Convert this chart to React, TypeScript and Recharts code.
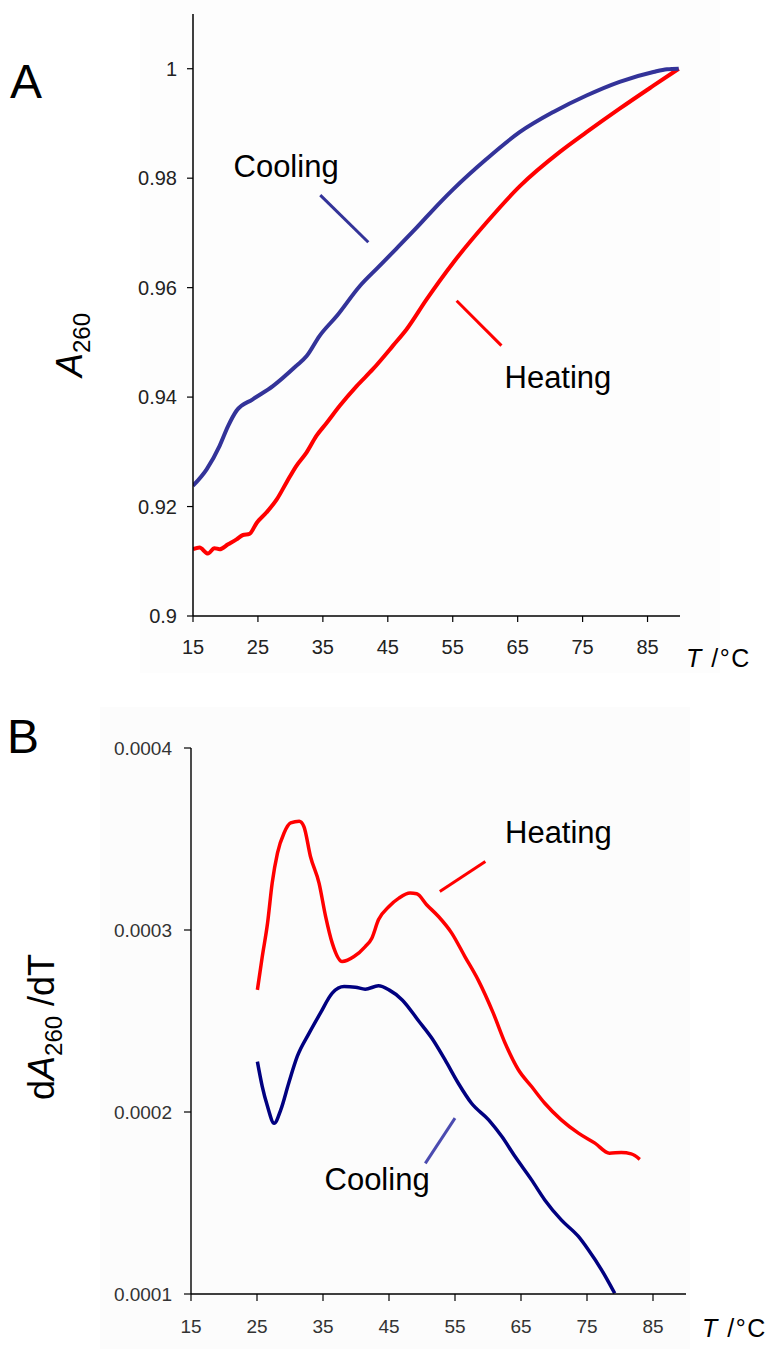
import { LineChart, Line, XAxis, YAxis, ReferenceLine } from 'recharts';

// Panel A: absorbance vs temperature
const coolingTempsA = [15, 17.1, 19.1, 20.4, 21.7, 24.2, 27.3, 30.9, 32.5, 34.5, 37.2, 40.7, 43.5, 46.3, 49.4, 53.0, 55.1, 60.2, 65.3, 70.5, 75.6, 80.7, 85.9, 88, 89.8];
const coolingAbsA = [0.9238, 0.9268, 0.9311, 0.9347, 0.9375, 0.9396, 0.942, 0.9457, 0.9475, 0.9512, 0.9549, 0.9603, 0.9637, 0.9671, 0.9709, 0.9755, 0.978, 0.9835, 0.9884, 0.9921, 0.9951, 0.9976, 0.9994, 0.9999, 1.0];

const heatingTempsA = [15, 16.0, 17.3, 18.3, 19.1, 20.4, 21.7, 22.7, 23.7, 24.8, 26.3, 27.9, 29.4, 30.9, 32.5, 34.0, 35.6, 37.6, 40.2, 42.7, 45.8, 47.9, 51.0, 55.1, 60.2, 65.3, 71.5, 75.6, 80.7, 85.9, 89.8];
const heatingAbsA = [0.9122, 0.9125, 0.9114, 0.9124, 0.9122, 0.9131, 0.914, 0.9148, 0.915, 0.917, 0.9189, 0.9213, 0.9244, 0.9274, 0.9299, 0.9329, 0.9353, 0.9384, 0.942, 0.9451, 0.9494, 0.9524, 0.9579, 0.9646, 0.9719, 0.9785, 0.9848, 0.9884, 0.9927, 0.9969, 1.0];

const xTicks = [15, 25, 35, 45, 55, 65, 75, 85];
const yTicksA = [0.9, 0.92, 0.94, 0.96, 0.98, 1];

// Panel B: first derivative dA260/dT (values in units of 1e-4)
const heatingTempsB = [25.06, 25.8, 26.6, 27.3, 28.1, 29.1, 30.1, 31.4, 32.1, 33.1, 34.4, 35.4, 36.4, 37.9, 39.7, 41.4, 42.4, 43.4, 45.0, 46.5, 48.2, 49.2, 50.7, 52.5, 54.5, 56.5, 58.5, 60.8, 62.6, 64.6, 66.6, 68.6, 71.1, 73.7, 76.2, 78.4, 80.2, 81.7, 83.0];
const heatingDerivB = [2.671, 2.854, 3.038, 3.258, 3.423, 3.533, 3.588, 3.597, 3.569, 3.404, 3.258, 3.074, 2.928, 2.827, 2.854, 2.909, 2.955, 3.056, 3.129, 3.175, 3.203, 3.199, 3.139, 3.074, 2.983, 2.854, 2.726, 2.543, 2.378, 2.232, 2.14, 2.048, 1.957, 1.884, 1.829, 1.774, 1.777, 1.77, 1.74];

const coolingTempsB = [25.06, 25.8, 26.6, 27.6, 28.6, 29.8, 31.1, 32.9, 34.6, 36.4, 38.2, 39.9, 41.4, 43.4, 45.0, 47.0, 49.5, 51.5, 53.5, 55.5, 57.5, 60.1, 62.1, 64.1, 66.6, 68.6, 71.1, 73.7, 75.2, 77.2, 79.2];
const coolingDerivB = [2.277, 2.14, 2.03, 1.938, 2.012, 2.158, 2.305, 2.433, 2.543, 2.653, 2.689, 2.686, 2.675, 2.693, 2.671, 2.616, 2.5, 2.405, 2.286, 2.158, 2.048, 1.957, 1.865, 1.755, 1.627, 1.517, 1.407, 1.316, 1.243, 1.133, 1.004];

const yTicksB = [0.0001, 0.0002, 0.0003, 0.0004];

const coolingA = coolingTempsA.map((t, i) => ({ t, v: coolingAbsA[i] }));
const heatingA = heatingTempsA.map((t, i) => ({ t, v: heatingAbsA[i] }));
const heatingB = heatingTempsB.map((t, i) => ({ t, v: heatingDerivB[i] * 1e-4 }));
const coolingB = coolingTempsB.map((t, i) => ({ t, v: coolingDerivB[i] * 1e-4 }));

const FONT = '"Liberation Sans", Arial, sans-serif';

export default function App() {
  return (
    <div style={{ position: 'absolute', left: 0, top: 0, width: 773, height: 1349, background: '#fff', fontFamily: FONT }}>
      <div style={{ position: 'absolute', left: 140, top: 0, width: 580, height: 673, background: '#fdfdfd' }} />
      <div style={{ position: 'absolute', left: 100, top: 707, width: 590, height: 642, background: '#fcfcfc' }} />

      <div style={{ position: 'absolute', left: 0, top: 0 }}>
        <LineChart width={773} height={680} margin={{ top: 14, right: 93, bottom: 24, left: 133 }}>
          <XAxis
            type="number"
            dataKey="t"
            domain={[15, 90]}
            ticks={xTicks}
            allowDataOverflow
            height={40}
            axisLine={{ stroke: '#000', strokeWidth: 1.5 }}
            tickLine={{ stroke: '#000', strokeWidth: 1.2 }}
            tickSize={6}
            tickMargin={18}
            tick={{ fill: '#222', fontSize: 20, fontFamily: FONT }}
          />
          <YAxis
            type="number"
            domain={[0.9, 1.01]}
            ticks={yTicksA}
            allowDataOverflow
            width={60}
            axisLine={{ stroke: '#000', strokeWidth: 1.5 }}
            tickLine={{ stroke: '#000', strokeWidth: 1.2 }}
            tickSize={6}
            tickMargin={10}
            tick={{ fill: '#222', fontSize: 20, fontFamily: FONT }}
          />
          <ReferenceLine segment={[{ x: 34.6, y: 0.9769 }, { x: 42.0, y: 0.9683 }]} stroke="#333399" strokeWidth={3} ifOverflow="visible" />
          <ReferenceLine segment={[{ x: 55.6, y: 0.9576 }, { x: 62.5, y: 0.9494 }]} stroke="#ff0000" strokeWidth={3} ifOverflow="visible" />
          <Line data={heatingA} dataKey="v" type="monotone" stroke="#ff0000" strokeWidth={4} dot={false} activeDot={false} isAnimationActive={false} />
          <Line data={coolingA} dataKey="v" type="monotone" stroke="#333399" strokeWidth={4} dot={false} activeDot={false} isAnimationActive={false} />
        </LineChart>
      </div>

      <div style={{ position: 'absolute', left: 0, top: 680 }}>
        <LineChart width={773} height={669} margin={{ top: 68, right: 87, bottom: 15, left: 111 }}>
          <XAxis
            type="number"
            dataKey="t"
            domain={[15, 90]}
            ticks={xTicks}
            allowDataOverflow
            height={40}
            axisLine={{ stroke: '#000', strokeWidth: 1.4 }}
            tickLine={{ stroke: '#000', strokeWidth: 1.2 }}
            tickSize={7}
            tickMargin={19}
            tick={{ fill: '#333', fontSize: 19, fontFamily: FONT }}
          />
          <YAxis
            type="number"
            domain={[0.0001, 0.0004]}
            ticks={yTicksB}
            allowDataOverflow
            width={80}
            tickFormatter={(v: number) => v.toFixed(4)}
            axisLine={{ stroke: '#000', strokeWidth: 1.4 }}
            tickLine={{ stroke: '#000', strokeWidth: 1.2 }}
            tickSize={7}
            tickMargin={12}
            tick={{ fill: '#333', fontSize: 19, fontFamily: FONT }}
          />
          <ReferenceLine segment={[{ x: 52.7, y: 0.0003212 }, { x: 59.6, y: 0.0003377 }]} stroke="#ff0000" strokeWidth={3} ifOverflow="visible" />
          <ReferenceLine segment={[{ x: 50.5, y: 0.0001718 }, { x: 55.0, y: 0.0001966 }]} stroke="#4b4bb0" strokeWidth={3} ifOverflow="visible" />
          <Line data={heatingB} dataKey="v" type="monotone" stroke="#ff0000" strokeWidth={3.5} dot={false} activeDot={false} isAnimationActive={false} />
          <Line data={coolingB} dataKey="v" type="monotone" stroke="#000080" strokeWidth={3.5} dot={false} activeDot={false} isAnimationActive={false} />
        </LineChart>
      </div>

      <svg width={773} height={1349} style={{ position: 'absolute', left: 0, top: 0, pointerEvents: 'none' }} fontFamily={FONT}>
        <text x={10} y={98} fontSize={48} fill="#000">A</text>
        <text x={7} y={753} fontSize={48} fill="#000">B</text>

        <text transform="translate(82,377) rotate(-90)" fontSize={36} fill="#000">
          <tspan fontStyle="italic">A</tspan>
          <tspan fontSize={24} dy={8}>260</tspan>
        </text>
        <text transform="translate(54,1100) rotate(-90)" fontSize={36} fill="#000">
          <tspan>d</tspan>
          <tspan fontStyle="italic">A</tspan>
          <tspan fontSize={24} dy={8}>260</tspan>
          <tspan dy={-8}> /dT</tspan>
        </text>

        <text x={686} y={667} fontSize={25} letterSpacing={1.5} fill="#000">
          <tspan fontStyle="italic">T</tspan> /°C
        </text>
        <text x={702} y={1337} fontSize={25} letterSpacing={1.5} fill="#000">
          <tspan fontStyle="italic">T</tspan> /°C
        </text>

        <text x={233.5} y={177} fontSize={31} fill="#000">Cooling</text>
        <text x={504.5} y={388} fontSize={31} fill="#000">Heating</text>
        <text x={505} y={843} fontSize={31} fill="#000">Heating</text>
        <text x={324.5} y={1190} fontSize={31} fill="#000">Cooling</text>
      </svg>
    </div>
  );
}
